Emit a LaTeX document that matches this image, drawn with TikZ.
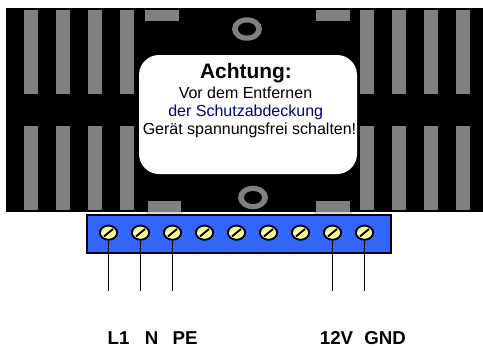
\documentclass[tikz,border=0pt]{standalone}
\usepackage{fontspec}
\setmainfont{Liberation Sans}
\usetikzlibrary{shapes.geometric}
\definecolor{bargray}{HTML}{808080}
\definecolor{termblue}{HTML}{3366FF}
\definecolor{screwy}{HTML}{FFFF99}
\definecolor{txtblue}{HTML}{000080}
\tikzset{x=0.75pt,y=-0.75pt,
 bar/.style={fill=bargray,draw=none},
 screw/.style={draw=black,line width=1.4pt,fill=screwy,ellipse,minimum width=13pt,minimum height=10.6pt,inner sep=0pt},
 wire/.style={draw=black,line width=1.35pt},
 lab/.style={font=\fontsize{14pt}{16pt}\bfseries\selectfont,anchor=base,inner sep=0pt},
 msg/.style={font=\fontsize{12pt}{14pt}\selectfont,anchor=base,inner sep=0pt}}
\begin{document}
\begin{tikzpicture}
\useasboundingbox (0,0) rectangle (483,347);
\fill[black] (5.5,8) rectangle (483,212);
\foreach \x in {23.5,55.5,87.5,119.5,359.5,391.5,423.5,455.5}{
  \fill[bar] (\x,10) rectangle ++(14.5,84);
  \fill[bar] (\x,126) rectangle ++(14.5,84);
}
\fill[bar] (145,10) rectangle (178.5,21);
\fill[bar] (315.7,10) rectangle (349.5,21);
\fill[bar] (147.5,201) rectangle (181,212);
\fill[bar] (316,201) rectangle (350,212);
\fill[black!15] (146,212) rectangle (183,214);
\fill[black!15] (314,212) rectangle (352,214);
\fill[bar] (247,29) ellipse (15 and 11.7);
\fill[black] (247,29) ellipse (9 and 6.5);
\fill[bar] (253,197.5) ellipse (15 and 11.7);
\fill[black] (253,197.5) ellipse (9 and 6.5);
\fill[white,rounded corners=15] (139,55) rectangle (357,174);
\node[font=\fontsize{15.7pt}{18pt}\bfseries\selectfont,anchor=base,inner sep=0pt] (t1) at (246,78) {Achtung:};
\node[msg] (t2) at (245.5,98) {Vor dem Entfernen};
\node[msg,text=txtblue] (t3) at (245.7,116.5) {der Schutzabdeckung};
\node[msg] (t4) at (249.5,134) {Gerät spannungsfrei schalten!};
\draw[black,line width=1.5pt,fill=termblue] (86.5,214.5) rectangle (390.5,253);
\foreach \i/\x in {1/108.5,2/140.5,3/172.5,4/204.5,5/236.5,6/268.5,7/300.5,8/332.5,9/364.5}{
  \node[screw] (s\i) at (\x,232.7) {};
  \draw[black,line width=1.4pt] (\x-4.5,236.5) -- (\x+4.5,229);
}
\foreach \i in {1,2,3,8,9}{
  \coordinate (e\i) at (s\i |- 0,291);
  \draw[wire] (s\i.south) -- (e\i);
}
\node[lab] (l1) at (118.5,344) {L1};
\node[lab] (l2) at (151.5,344) {N};
\node[lab] (l3) at (185,344) {PE};
\node[lab] (l4) at (336.5,344) {12V};
\node[lab] (l5) at (385,344) {GND};
\end{tikzpicture}
\end{document}
